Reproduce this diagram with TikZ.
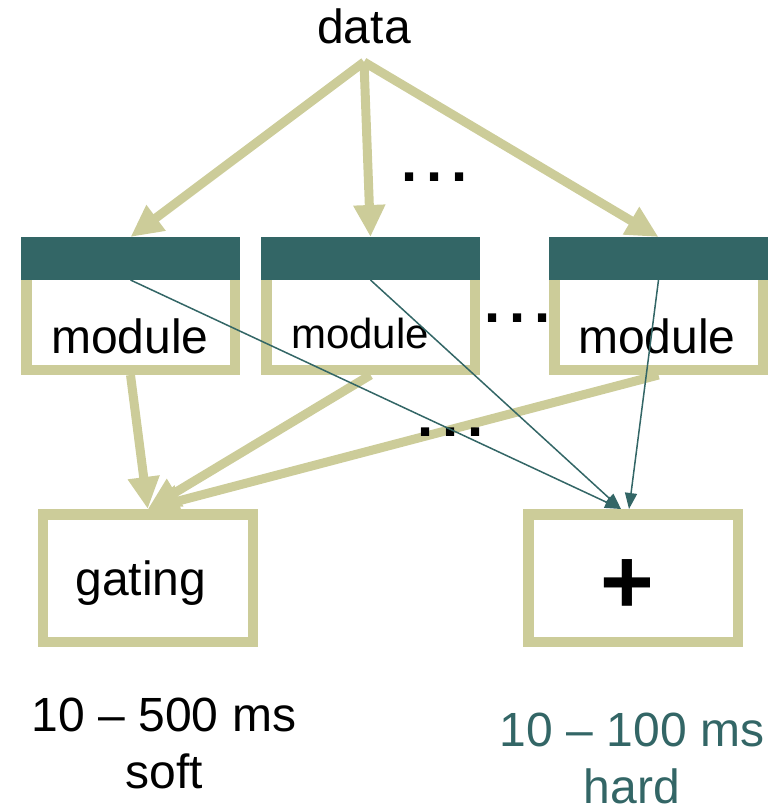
\documentclass[tikz,border=0pt]{standalone}
\usepackage{fontspec}
\setmainfont{Liberation Sans}
\usetikzlibrary{arrows.meta,positioning}
\definecolor{khaki}{RGB}{204,204,153}
\definecolor{slate}{RGB}{51,102,102}
\newcommand{\dotgap}{\hspace{8.9pt}}
\begin{document}
\begin{tikzpicture}[x=1pt,y=-1pt,line join=miter,
	lbl/.style={font=\fontsize{48}{57}\selectfont,inner sep=0pt},
	modframe/.style={draw=khaki,line width=10.5pt,minimum width=208.5pt,minimum height=127.5pt,inner sep=0pt},
	modhead/.style={fill=slate,minimum width=219pt,minimum height=43pt,inner sep=0pt,outer sep=0pt,anchor=north west},
	feed/.style={draw=khaki,line width=9pt,-{Triangle[length=32pt,width=30pt]}},
	wire/.style={draw=slate,line width=1.5pt,-{Triangle[length=16pt,width=12pt]}},
	dotrow/.style={font=\fontsize{58}{58}\selectfont\bfseries,inner sep=0pt}]
	\useasboundingbox (0,0) rectangle (776,806);
	% the input
	\node[lbl,anchor=base] (data) at (364,43) {data};
	\coordinate (src) at (364,62);
	% the experts
	\node[modframe] (m1) at (130.5,306) {};
	\node[modframe] (m2) at (370.5,306) {};
	\node[modframe] (m3) at (658.5,306) {};
	\node[modhead] (h1) at (m1.north west) {};
	\node[modhead] (h2) at (m2.north west) {};
	\node[modhead] (h3) at (m3.north west) {};
	\node[lbl,anchor=base] (t1) at (130,353) {module};
	\node[lbl,anchor=base,font=\fontsize{42}{50}\selectfont] (t2) at (360,348) {module};
	\node[lbl,anchor=base] (t3) at (657,353) {module};
	\draw[feed] (src) -- (h1.north);
	\draw[feed] (src) -- (h2.north);
	\draw[feed] (src) -- (h3.north);
	% combiners
	\node[modframe,minimum width=210pt] (gate) at (147.75,578) {};
	\node[modframe,minimum width=209.5pt] (sum) at (633,578) {};
	\node[lbl,anchor=base] (tg) at (141,595) {gating};
	\node[font=\fontsize{92}{92}\selectfont\bfseries,inner sep=0pt] (plus) at (627,587) {+};
	\draw[feed] (m1.south) -- (gate.north);
	\draw[feed] (m2.south) -- (gate.north);
	\draw[feed] (m3.south) -- (gate.north);
	\node[dotrow] (dA) at (435,177) {.\dotgap.\dotgap.};
	\node[dotrow] (dB) at (518,318) {.\dotgap.\dotgap.};
	\node[dotrow] (dC) at (451,432) {.\dotgap.\dotgap.};
	\draw[wire] (h1.south) -- ([xshift=-12pt]sum.north);
	\draw[wire] (h2.south) -- ([xshift=-12pt]sum.north);
	\draw[wire] (h3.south) -- ([xshift=-4pt]sum.north);
	% time scales
	\node[lbl,align=center,anchor=north] (soft) at (164,698) {10 – 500 ms\\soft};
	\node[lbl,align=center,anchor=north,text=slate] (hard) at (632,713) {10 – 100 ms\\hard};
\end{tikzpicture}
\end{document}
